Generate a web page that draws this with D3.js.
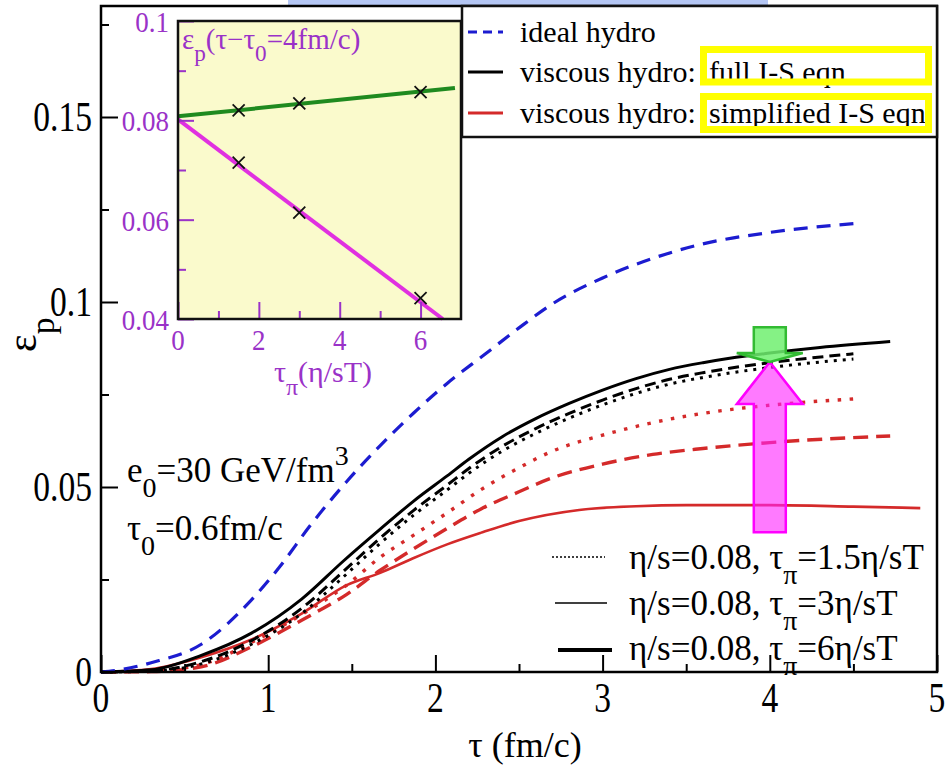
<!DOCTYPE html>
<html>
<head>
<meta charset="utf-8">
<script src="https://cdn.jsdelivr.net/npm/d3@7"></script>
<style>
body { margin: 0; background: #fff; }
svg { display: block; }
text { font-family: "Liberation Serif", "Times New Roman", serif; }
</style>
</head>
<body>
<svg id="chart" width="947" height="766"></svg>
<script>
// ---- main panel data: eccentricity eps_p vs tau (fm/c)
var tauIdeal = [0, 0.1, 0.3, 0.6, 0.9, 1.07, 1.25, 1.47, 1.67, 1.87, 2.07, 2.3, 2.5, 2.7, 3.0, 3.3, 3.58, 4.0, 4.5];
var epsIdeal = [0, 0.0005, 0.0025, 0.0075, 0.0195, 0.0285, 0.0395, 0.0515, 0.0612, 0.0700, 0.0780, 0.0860, 0.0930, 0.0995, 0.1065, 0.1118, 0.1155, 0.1188, 0.1212];

var tauFull6 = [0, 0.3, 0.6, 0.9, 1.2, 1.45, 1.67, 1.87, 2.07, 2.2, 2.4, 2.6, 2.8, 3.0, 3.2, 3.4, 3.6, 3.76, 4.0, 4.3, 4.72];
var epsFull6 = [0, 0.0006, 0.0045, 0.0105, 0.0197, 0.0300, 0.0386, 0.0462, 0.0530, 0.0575, 0.0636, 0.0685, 0.0726, 0.0762, 0.0793, 0.0818, 0.0836, 0.0848, 0.0862, 0.0877, 0.0893];

var tauFull3 = [0, 0.3, 0.6, 0.9, 1.2, 1.45, 1.67, 1.87, 2.07, 2.2, 2.4, 2.6, 2.8, 3.0, 3.2, 3.4, 3.6, 3.76, 4.0, 4.5];
var epsFull3 = [0, 0.0003, 0.0028, 0.0085, 0.0172, 0.0272, 0.0362, 0.0437, 0.0505, 0.0550, 0.0610, 0.0658, 0.0699, 0.0735, 0.0766, 0.0791, 0.0809, 0.0821, 0.0836, 0.0860];
var epsFull15 = [0, 0.0002, 0.0022, 0.0075, 0.0158, 0.0257, 0.0348, 0.0424, 0.0492, 0.0537, 0.0597, 0.0645, 0.0686, 0.0722, 0.0753, 0.0778, 0.0796, 0.0808, 0.0823, 0.0846];

var tauSimp = [0, 0.3, 0.6, 0.9, 1.2, 1.47, 1.67, 1.87, 2.07, 2.27, 2.5, 2.7, 3.0, 3.3, 3.6, 4.0, 4.5];
var epsSimp15 = [0, 0.0003, 0.002, 0.008, 0.0155, 0.0235, 0.031, 0.037, 0.043, 0.0492, 0.0552, 0.0597, 0.0640, 0.0674, 0.0699, 0.0721, 0.0738];
var tauSimp3 = [0, 0.3, 0.6, 0.9, 1.2, 1.47, 1.67, 1.87, 2.07, 2.27, 2.5, 2.7, 3.0, 3.3, 3.6, 4.0, 4.72];
var epsSimp3 = [0, 0.0001, 0.0014, 0.0068, 0.014, 0.021, 0.0275, 0.0333, 0.0388, 0.0440, 0.0487, 0.0525, 0.0562, 0.0588, 0.0604, 0.0620, 0.0638];
var tauSimp6 = [0, 0.3, 0.6, 0.9, 1.2, 1.47, 1.67, 1.87, 2.07, 2.27, 2.5, 2.86, 3.2, 3.5, 4.0, 4.5, 4.9];
var epsSimp6 = [0, 0.0008, 0.004, 0.0088, 0.0158, 0.0235, 0.0268, 0.0308, 0.0345, 0.0376, 0.0408, 0.0438, 0.0448, 0.0451, 0.0451, 0.0447, 0.0443];

var xTicks = [0, 1, 2, 3, 4, 5];
var xTickLabels = ["0", "1", "2", "3", "4", "5"];
var yTicks = [0, 0.05, 0.1, 0.15];
var yTickLabels = ["0", "0.05", "0.1", "0.15"];

// arrows at tau = 4: [bottom, head base, tip] in eps units
var arrowTau = 4;
var upArrowEps = [0.0378, 0.0724, 0.0838];
var downArrowEps = [0.0932, 0.0862, 0.0838];

// ---- inset data: eps_p at tau - tau0 = 4 fm/c vs tau_pi (eta/sT)
var insetTau = [1.5, 3, 6];
var insetFull = [0.0820, 0.0834, 0.0857];
var insetSimp = [0.0715, 0.0614, 0.0442];
var fitFullTau = [0, 6.85], fitFullEps = [0.0808, 0.0865];
var fitSimpTau = [0, 6.55], fitSimpEps = [0.0802, 0.040];
var insetXTicks = [0, 2, 4, 6];
var insetYTicks = [0.04, 0.06, 0.08, 0.1];
var insetYTickLabels = ["0.04", "0.06", "0.08", "0.1"];

var svg = d3.select("#chart");
var purple = "#9a32c8";

function zip(a, b) { return a.map(function(v, i) { return [v, b[i]]; }); }

// text with sub/superscripts; parts: "str" or ["str","sub"|"sup"]
function richText(g, x, y, size, parts, opts) {
    opts = opts || {};
    var t = g.append("text")
        .attr("transform", "translate(" + x + "," + y + ")" + (opts.rotate ? " rotate(" + opts.rotate + ")" : "") + " scale(" + (opts.sx || 1) + ",1)")
        .attr("font-size", size)
        .attr("fill", opts.color || "#000")
        .attr("text-anchor", opts.anchor || "start");
    var shift = 0;
    parts.forEach(function(p) {
        var s = Array.isArray(p) ? p[0] : p, k = Array.isArray(p) ? p[1] : "";
        var target = k === "sub" ? size * 0.42 : k === "sup" ? -size * 0.5 : 0;
        t.append("tspan")
            .attr("dy", target - shift)
            .attr("font-size", k ? size * 0.8 : size)
            .text(s);
        shift = target;
    });
    return t;
}

// ---- main scales
var x = d3.scaleLinear().domain([0, 5]).range([101, 937]);
var y = d3.scaleLinear().domain([0, 0.18]).range([672, 6]);

// blue strip at the very top (slide artefact)
svg.append("rect").attr("x", 288).attr("y", 0).attr("width", 480).attr("height", 6).attr("fill", "#b4c6f4");

var line = d3.line()
    .x(function(d) { return x(d[0]); })
    .y(function(d) { return y(d[1]); })
    .curve(d3.curveMonotoneX);

var curves = [
    {tau: tauSimp6, eps: epsSimp6, color: "#d42a2a", width: 2.6, dash: null},
    {tau: tauSimp3, eps: epsSimp3, color: "#d42a2a", width: 3.4, dash: "15,8"},
    {tau: tauSimp, eps: epsSimp15, color: "#d42a2a", width: 3.4, dash: "3.5,8.5"},
    {tau: tauFull3, eps: epsFull15, color: "#000", width: 3, dash: "3,6"},
    {tau: tauFull3, eps: epsFull3, color: "#000", width: 3, dash: "11,6"},
    {tau: tauFull6, eps: epsFull6, color: "#000", width: 3, dash: null},
    {tau: tauIdeal, eps: epsIdeal, color: "#1c1cd0", width: 3.2, dash: "14,9"}
];

curves.forEach(function(c) {
    svg.append("path")
        .datum(zip(c.tau, c.eps))
        .attr("d", line)
        .attr("fill", "none")
        .attr("stroke", c.color)
        .attr("stroke-width", c.width)
        .attr("stroke-dasharray", c.dash);
});

// arrows
function arrowPoints(tau, e, shaft, head) {
    var cx = x(tau);
    return [[cx - shaft, y(e[0])], [cx + shaft, y(e[0])], [cx + shaft, y(e[1])], [cx + head, y(e[1])],
            [cx, y(e[2])], [cx - head, y(e[1])], [cx - shaft, y(e[1])]];
}
svg.append("polygon")
    .attr("points", arrowPoints(arrowTau, upArrowEps, 16, 33).join(" "))
    .attr("fill", "#ff22ff").attr("fill-opacity", 0.6)
    .attr("stroke", "#ff00ff").attr("stroke-width", 2.5);
svg.append("polygon")
    .attr("points", arrowPoints(arrowTau, downArrowEps, 16, 33).join(" "))
    .attr("fill", "#70f070").attr("fill-opacity", 0.85)
    .attr("stroke", "#33bb33").attr("stroke-width", 2.5);

// frame and axes
svg.append("rect").attr("x", 101).attr("y", 6).attr("width", 836).attr("height", 666)
    .attr("fill", "none").attr("stroke", "#000").attr("stroke-width", 2.5);

function tickStyle(color) {
    return function(g) {
        g.select(".domain").remove();
        g.selectAll("line").attr("stroke", color).attr("stroke-width", 2);
    };
}

svg.append("g").attr("transform", "translate(0,672)")
    .call(d3.axisBottom(x).tickValues(xTicks).tickSize(-17).tickFormat(""))
    .call(tickStyle("#000"));
svg.append("g").attr("transform", "translate(0,672)")
    .call(d3.axisBottom(x).tickValues([0.5, 1.5, 2.5, 3.5, 4.5]).tickSize(-8).tickFormat(""))
    .call(tickStyle("#000"));
svg.append("g").attr("transform", "translate(101,0)")
    .call(d3.axisLeft(y).tickValues(yTicks).tickSize(-17).tickFormat(""))
    .call(tickStyle("#000"));
svg.append("g").attr("transform", "translate(101,0)")
    .call(d3.axisLeft(y).tickValues([0.025, 0.075, 0.125, 0.175]).tickSize(-8).tickFormat(""))
    .call(tickStyle("#000"));

xTicks.forEach(function(v, i) {
    richText(svg, x(v), 712, 43, [xTickLabels[i]], {anchor: "middle", sx: 0.78});
});
yTicks.forEach(function(v, i) {
    richText(svg, 92, y(v) + 14, 43, [yTickLabels[i]], {anchor: "end", sx: 0.78});
});

richText(svg, 525, 757, 36, ["τ (fm/c)"], {anchor: "middle"});
richText(svg, 36, 352, 42, ["ε", ["p", "sub"]], {rotate: -90});

richText(svg, 127, 482, 35, ["e", ["0", "sub"], "=30 GeV/fm", ["3", "sup"]]);
richText(svg, 127, 540, 35, ["τ", ["0", "sub"], "=0.6fm/c"]);

// bottom-right legend (tau_pi line styles)
var tauLegend = [
    {y: 557, x0: 552, x1: 605, width: 1.5, dash: "2,2", label: "1.5η/sT", ty: 569},
    {y: 603, x0: 555, x1: 607, width: 1.6, dash: null, label: "3η/sT", ty: 615},
    {y: 650, x0: 558, x1: 612, width: 4, dash: null, label: "6η/sT", ty: 660}
];
tauLegend.forEach(function(d) {
    svg.append("line").attr("x1", d.x0).attr("x2", d.x1).attr("y1", d.y).attr("y2", d.y)
        .attr("stroke", "#000").attr("stroke-width", d.width).attr("stroke-dasharray", d.dash);
    richText(svg, 629, d.ty, 35, ["η/s=0.08, τ", ["π", "sub"], "=" + d.label]);
});

// ---- inset
var ix = d3.scaleLinear().domain([0, 7]).range([178, 461]);
var iy = d3.scaleLinear().domain([0.04, 0.1]).range([319, 21]);
var inset = svg.append("g");
inset.append("rect").attr("x", ix(0)).attr("y", iy(0.1)).attr("width", ix(7) - ix(0)).attr("height", iy(0.04) - iy(0.1))
    .attr("fill", "#fafacc").attr("stroke", "none");

var iline = d3.line().x(function(d) { return ix(d[0]); }).y(function(d) { return iy(d[1]); });
inset.append("path").datum(zip(fitFullTau, fitFullEps)).attr("d", iline)
    .attr("fill", "none").attr("stroke", "#1f8a1f").attr("stroke-width", 4);
inset.append("path").datum(zip(fitSimpTau, fitSimpEps)).attr("d", iline)
    .attr("fill", "none").attr("stroke", "#e030e0").attr("stroke-width", 4);

inset.selectAll(".cross").data(zip(insetTau, insetFull).concat(zip(insetTau, insetSimp)))
    .enter().append("path")
    .attr("class", "cross")
    .attr("transform", function(d) { return "translate(" + ix(d[0]) + "," + iy(d[1]) + ")"; })
    .attr("d", "M-6,-6L6,6M-6,6L6,-6")
    .attr("stroke", "#111").attr("stroke-width", 1.8).attr("fill", "none");

inset.append("g").attr("transform", "translate(0," + iy(0.04) + ")")
    .call(d3.axisBottom(ix).tickValues(insetXTicks).tickSize(-17).tickFormat(""))
    .call(tickStyle(purple));
inset.append("g").attr("transform", "translate(0," + iy(0.04) + ")")
    .call(d3.axisBottom(ix).tickValues([1, 3, 5]).tickSize(-8).tickFormat(""))
    .call(tickStyle(purple));
inset.append("g").attr("transform", "translate(" + ix(0) + ",0)")
    .call(d3.axisLeft(iy).tickValues(insetYTicks).tickSize(-16).tickFormat(""))
    .call(tickStyle(purple));
inset.append("g").attr("transform", "translate(" + ix(0) + ",0)")
    .call(d3.axisLeft(iy).tickValues([0.05, 0.07, 0.09]).tickSize(-8).tickFormat(""))
    .call(tickStyle(purple));

inset.append("rect").attr("x", ix(0)).attr("y", iy(0.1)).attr("width", ix(7) - ix(0)).attr("height", iy(0.04) - iy(0.1))
    .attr("fill", "none").attr("stroke", "#111").attr("stroke-width", 2.5);

insetXTicks.forEach(function(v) {
    richText(inset, ix(v), 350, 30, [String(v)], {anchor: "middle", color: purple, sx: 0.9});
});
insetYTicks.forEach(function(v, i) {
    richText(inset, 169, iy(v) + 11, 30, [insetYTickLabels[i]], {anchor: "end", color: purple, sx: 0.9});
});
richText(inset, 323, 382, 30, ["τ", ["π", "sub"], "(η/sT)"], {anchor: "middle", color: purple});
richText(inset, 182, 49, 29, ["ε", ["p", "sub"], "(τ−τ", ["0", "sub"], "=4fm/c)"], {color: purple});

// ---- top-right legend
svg.append("rect").attr("x", 462).attr("y", 6).attr("width", 475).attr("height", 131)
    .attr("fill", "#fff").attr("stroke", "#111").attr("stroke-width", 2.5);
var legendItems = [
    {label: "ideal hydro", note: "", color: "#1c1cd0", dash: "9,6", y: 32},
    {label: "viscous hydro:", note: "full I-S eqn", color: "#000", dash: null, y: 72},
    {label: "viscous hydro:", note: "simplified I-S eqn", color: "#d42a2a", dash: null, y: 113}
];
legendItems.forEach(function(d) {
    svg.append("line").attr("x1", 468).attr("x2", 503).attr("y1", d.y).attr("y2", d.y)
        .attr("stroke", d.color).attr("stroke-width", 3).attr("stroke-dasharray", d.dash);
    richText(svg, 520, d.y + 10, 30, [d.label]);
    if (d.note) richText(svg, 709, d.y + 10, 30, [d.note]);
});
// yellow highlight boxes round the two notes
[[49.5, 82], [96.5, 129.5]].forEach(function(b) {
    svg.append("rect").attr("x", 703.5).attr("y", b[0]).attr("width", 225).attr("height", b[1] - b[0])
        .attr("fill", "none").attr("stroke", "#ffff00").attr("stroke-width", 7);
});
</script>
</body>
</html>
